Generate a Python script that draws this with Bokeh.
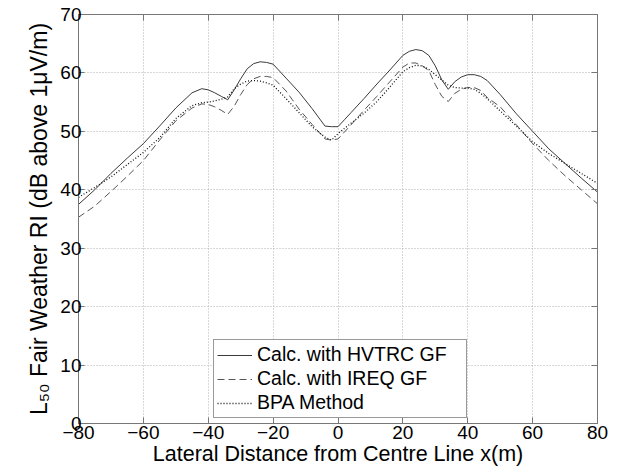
from bokeh.plotting import figure
from bokeh.models import FixedTicker, LinearAxis, Legend, LegendItem, Range1d
from bokeh.embed import file_html
from bokeh.resources import INLINE

# ---------------- data ----------------
x_pos = [-80, -75, -70, -65, -60, -55, -50, -45, -42, -40, -38, -36, -34, -32, -30,
         -28, -26, -24, -22, -20, -16, -12, -8, -4, -2, 0, 2, 4, 8, 12, 16, 20, 22,
         24, 26, 28, 30, 32, 34, 36, 38, 40, 42, 44, 46, 50, 55, 60, 65, 70, 75, 80]

hvtrc = [37.5, 40.0, 42.8, 45.4, 47.9, 50.9, 54.0, 56.6, 57.3, 57.1, 56.6, 56.0, 55.4,
         57.1, 59.0, 60.7, 61.6, 61.9, 61.8, 61.5, 59.1, 56.7, 53.9, 50.9, 50.8, 50.8,
         52.0, 53.2, 55.6, 58.1, 60.5, 63.0, 63.7, 64.0, 63.8, 63.0, 61.2, 58.8, 57.2,
         58.5, 59.3, 59.7, 59.7, 59.4, 58.7, 56.3, 53.0, 50.0, 47.0, 44.5, 42.0, 39.6]

ireq = [35.3, 37.2, 39.7, 42.3, 45.0, 48.5, 51.8, 54.0, 54.7, 54.6, 54.2, 53.6, 52.9,
        54.3, 56.3, 58.0, 59.0, 59.4, 59.4, 59.2, 56.9, 53.8, 51.2, 48.7, 48.5, 48.7,
        49.9, 51.1, 53.6, 56.0, 58.5, 61.0, 61.7, 61.7, 61.2, 60.4, 58.0, 56.0, 55.1,
        56.5, 57.2, 57.5, 57.5, 57.0, 55.8, 54.2, 51.1, 47.9, 45.0, 42.4, 40.0, 37.6]

bpa = [38.7, 40.4, 42.2, 44.3, 46.4, 48.9, 52.2, 54.4, 54.9, 55.0, 55.2, 55.5, 55.9,
       57.3, 58.1, 58.6, 58.7, 58.6, 58.3, 57.9, 55.6, 53.2, 50.8, 49.0, 48.5, 49.6,
       50.5, 51.4, 53.1, 55.1, 57.6, 60.2, 60.9, 61.3, 61.2, 60.6, 59.7, 58.8, 57.9,
       57.5, 57.4, 57.4, 57.2, 56.5, 55.6, 53.5, 50.9, 48.2, 46.2, 44.5, 42.8, 41.1]

series_names = ["Calc. with HVTRC GF", "Calc. with IREQ GF", "BPA Method"]
x_ticks = [-80, -60, -40, -20, 0, 20, 40, 60, 80]
y_ticks = [0, 10, 20, 30, 40, 50, 60, 70]
x_label = "Lateral Distance from Centre Line x(m)"
y_label = "L\u2085\u2080 Fair Weather RI (dB above 1\u03bcV/m)"

FONT = "Liberation Sans"

# ---------------- figure ----------------
W, H = 617, 475
p = figure(width=W, height=H, output_backend="svg", toolbar_location=None,
           x_range=Range1d(-80, 80), y_range=Range1d(0, 70),
           min_border_left=78, min_border_right=20, min_border_top=14,
           min_border_bottom=52, background_fill_color="white",
           border_fill_color="white")
p.outline_line_color = "#777777"

AXIS_COL = "#777777"
for ax in (p.xaxis[0], p.yaxis[0]):
    ax.axis_line_color = AXIS_COL
    ax.major_tick_line_color = AXIS_COL
    ax.major_tick_in = 6
    ax.major_tick_out = 0
    ax.minor_tick_line_color = None
    ax.major_label_text_font = FONT
    ax.major_label_text_font_size = "19px"
    ax.major_label_text_color = "black"
    ax.axis_label_text_font = FONT
    ax.axis_label_text_font_style = "normal"
    ax.axis_label_text_color = "black"

p.xaxis[0].ticker = FixedTicker(ticks=x_ticks)
p.yaxis[0].ticker = FixedTicker(ticks=y_ticks)
p.xaxis[0].major_label_standoff = 2
p.yaxis[0].major_label_standoff = -3
p.xaxis[0].axis_label = x_label
p.xaxis[0].axis_label_text_font_size = "21.5px"
p.xaxis[0].axis_label_standoff = 0
p.yaxis[0].axis_label = y_label
p.yaxis[0].axis_label_text_font_size = "23px"
p.yaxis[0].axis_label_standoff = 5

# top and right axes (ticks only)
top = LinearAxis(ticker=FixedTicker(ticks=x_ticks))
right = LinearAxis(ticker=FixedTicker(ticks=y_ticks))
for ax in (top, right):
    ax.axis_line_color = AXIS_COL
    ax.major_tick_line_color = AXIS_COL
    ax.major_tick_in = 6
    ax.major_tick_out = 0
    ax.minor_tick_line_color = None
    ax.major_label_text_font_size = "1px"
    ax.major_label_text_alpha = 0
    ax.major_label_standoff = 0
p.add_layout(top, "above")
p.add_layout(right, "right")

# grid
for g in (p.xgrid[0], p.ygrid[0]):
    g.grid_line_color = "#b0b0b0"
    g.grid_line_dash = "1 2"
    g.grid_line_width = 1
p.xgrid[0].ticker = FixedTicker(ticks=x_ticks)
p.ygrid[0].ticker = FixedTicker(ticks=y_ticks)

# ---------------- data lines ----------------
r1 = p.line(x_pos, hvtrc, line_color="#3a3a3a", line_width=1)
r2 = p.line(x_pos, ireq, line_color="#555555", line_width=1, line_dash="7 4")
r3 = p.line(x_pos, bpa, line_color="#111111", line_width=1.3, line_dash="1 2")

legend = Legend(items=[LegendItem(label=series_names[0], renderers=[r1]),
                       LegendItem(label=series_names[1], renderers=[r2]),
                       LegendItem(label=series_names[2], renderers=[r3])],
                location=(135, 5), orientation="vertical")
legend.label_text_font = FONT
legend.label_text_font_size = "19.5px"
legend.label_text_color = "black"
legend.glyph_width = 35
legend.glyph_height = 22
legend.label_height = 22
legend.label_width = 206
legend.label_standoff = 5
legend.spacing = 1
legend.padding = 3
legend.margin = 0
legend.border_line_color = "#333333"
legend.border_line_width = 1
legend.background_fill_color = "white"
legend.background_fill_alpha = 1
p.add_layout(legend, "center")

open("out.html", "w").write(file_html(p, INLINE))
